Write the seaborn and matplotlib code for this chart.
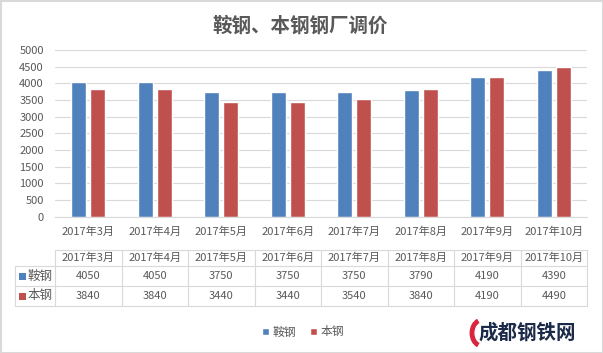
import numpy as np
import pandas as pd
import seaborn as sns
import matplotlib.pyplot as plt
import matplotlib.transforms as mtransforms
from matplotlib.patches import Rectangle, Arc

months = ["2017年3月", "2017年4月", "2017年5月", "2017年6月",
          "2017年7月", "2017年8月", "2017年9月", "2017年10月"]
angang = [4050, 4050, 3750, 3750, 3750, 3790, 4190, 4390]
bengang = [3840, 3840, 3440, 3440, 3540, 3840, 4190, 4490]
series = ["鞍钢", "本钢"]
colors = ["#4F81BD", "#C0504D"]

df = pd.DataFrame({
    "月份": months * 2,
    "钢厂": [series[0]] * len(months) + [series[1]] * len(months),
    "价格": angang + bengang,
})

sns.set_style("white")
plt.rcParams["font.family"] = ["Noto Sans CJK SC", "DejaVu Sans"]

txt = "#595959"
line_c = "#D9D9D9"
W, H = 603, 353
x0, x1, y_top, y_bot = 55, 587, 50, 216.7

fig = plt.figure(figsize=(W / 100, H / 100), dpi=100)
ax = fig.add_axes([x0 / W, 1 - y_bot / H, (x1 - x0) / W, (y_bot - y_top) / H])
sns.barplot(data=df, x="月份", y="价格", hue="钢厂", hue_order=series,
            palette=colors, width=0.58, gap=0.22, saturation=1, ax=ax)

ax.set_yticks(range(0, 5001, 500))
ax.grid(axis="y", color=line_c, lw=0.8)
ax.set_axisbelow(True)
for s in ["left", "top", "right"]:
    ax.spines[s].set_visible(False)
ax.spines["bottom"].set_color(line_c)
ax.tick_params(axis="y", length=0, pad=8, labelsize=8, labelcolor=txt)
ax.tick_params(axis="x", length=0, pad=7, labelsize=8, labelcolor=txt)
ax.set_xticks(np.arange(-0.5, len(months)), minor=True)
ax.tick_params(axis="x", which="minor", length=4, color=line_c, width=0.8)
ax.set_xlabel("")
ax.set_ylabel("")

# data table under the chart
trans = mtransforms.blended_transform_factory(ax.transData, ax.transAxes)
def fy(p):
    return (y_bot - p) / (y_bot - y_top)

left = -0.5 - (x0 - 15) / ((x1 - x0) / len(months))
right = len(months) - 0.5
rows = [250, 266, 286, 306]
kw = dict(transform=trans, clip_on=False, color=line_c, lw=0.8)
ax.plot([-0.5, right], [fy(rows[0])] * 2, **kw)
for r in rows[1:]:
    ax.plot([left, right], [fy(r)] * 2, **kw)
for b in np.arange(-0.5, len(months)):
    ax.plot([b, b], [fy(rows[0]), fy(rows[-1])], **kw)
ax.plot([left, left], [fy(rows[1]), fy(rows[-1])], **kw)

for i, m in enumerate(months):
    ax.text(i, fy(258), m, transform=trans, ha="center", va="center",
            fontsize=8, color=txt)
    ax.text(i, fy(276), str(angang[i]), transform=trans, ha="center",
            va="center", fontsize=8, color=txt)
    ax.text(i, fy(296), str(bengang[i]), transform=trans, ha="center",
            va="center", fontsize=8, color=txt)

for name, c, yc in zip(series, colors, [276, 296]):
    fig.add_artist(Rectangle((19 / W, 1 - (yc + 3.5) / H), 7 / W, 7 / H,
                             transform=fig.transFigure, color=c, lw=0))
    fig.text(27.5 / W, 1 - yc / H, name, ha="left", va="center",
             fontsize=9, color=txt)

ax.set_xlim(-0.5, right)
ax.set_ylim(0, 5000)

sns.move_legend(ax, "center", bbox_to_anchor=(303 / W, 1 - 332 / H),
                bbox_transform=fig.transFigure, ncol=2, frameon=False,
                title=None, fontsize=8.5, labelcolor=txt, handlelength=0.6,
                handleheight=0.6, handletextpad=0.3, columnspacing=1.2)

fig.text(300 / W, 1 - 26 / H, "鞍钢、本钢钢厂调价", ha="center", va="center",
         fontsize=14, weight="bold", color=txt)

# watermark
fig.text(527 / W, 1 - 333 / H, "成都钢铁网", ha="center", va="center",
         fontsize=14, weight="bold", color="#1B2A48")
fig.add_artist(Arc((482 / W, 1 - 333 / H), 20 / W, 26 / H, theta1=100,
                   theta2=260, lw=3.5, color="#D7263D",
                   transform=fig.transFigure))

fig.add_artist(Rectangle((0.5 / W, 0.5 / H), 1 - 1 / W, 1 - 1 / H,
                         transform=fig.transFigure, fill=False, ec=line_c,
                         lw=1.5))

fig.savefig("out.png", dpi=100)
